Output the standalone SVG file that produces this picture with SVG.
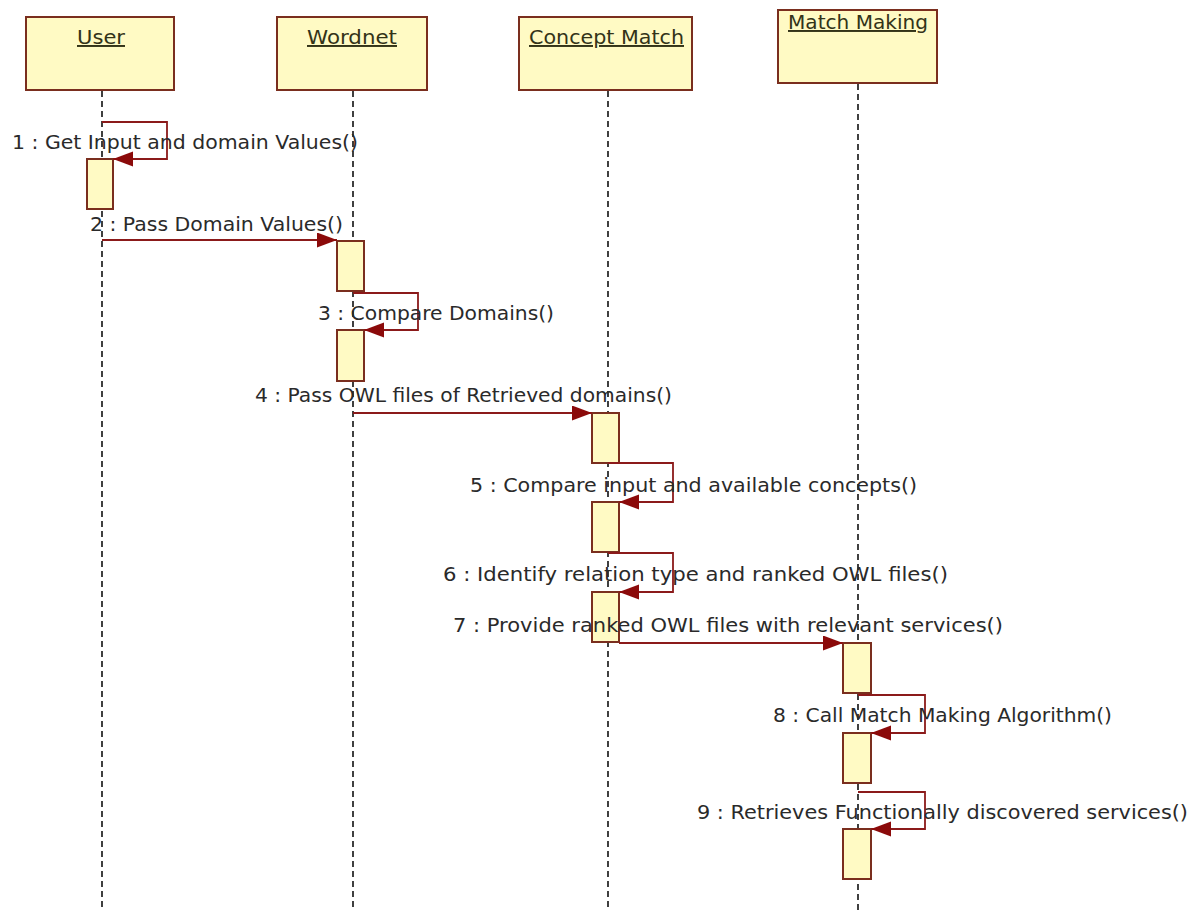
<svg xmlns="http://www.w3.org/2000/svg" width="1190" height="911" viewBox="0 0 1190 911">
<style>
.box{fill:#FFFAC4;stroke:#7A2E1E;stroke-width:2}
.act{fill:#FFFAC4;stroke:#7A2E1E;stroke-width:2}
.life{stroke:#111;stroke-width:1.6;stroke-dasharray:6,4;fill:none}
.msg{stroke:#8B1A1A;stroke-width:1.8;fill:none}
.lbl{font-family:"DejaVu Sans","Liberation Sans",sans-serif;font-size:20px;fill:#2a2a2a}
.ttl{font-family:"DejaVu Sans","Liberation Sans",sans-serif;font-size:19.5px;fill:#333318;text-decoration:underline}
</style>
<defs>
<marker id="ah" markerUnits="userSpaceOnUse" markerWidth="22" markerHeight="16" refX="20" refY="7.5" orient="auto">
<path d="M0,0 L20,7.5 L0,15 z" fill="#8B0A0A"/>
</marker>
</defs>
<rect width="1190" height="911" fill="#fff"/>

<g id="lifelines">
<line class="life" x1="102" y1="91" x2="102" y2="911"/>
<line class="life" x1="353" y1="91" x2="353" y2="911"/>
<line class="life" x1="608" y1="91" x2="608" y2="911"/>
<line class="life" x1="858" y1="84" x2="858" y2="911"/>
</g>

<g id="user">
<rect class="box" x="26" y="17" width="148" height="73"/>
<text class="ttl" x="77" y="44" textLength="48" lengthAdjust="spacingAndGlyphs">User</text>
</g>
<g id="wordnet">
<rect class="box" x="277" y="17" width="150" height="73"/>
<text class="ttl" x="307" y="44" textLength="90" lengthAdjust="spacingAndGlyphs">Wordnet</text>
</g>
<g id="conceptmatch">
<rect class="box" x="519" y="17" width="173" height="73"/>
<text class="ttl" x="529" y="44" textLength="155" lengthAdjust="spacingAndGlyphs">Concept Match</text>
</g>
<g id="matchmaking">
<rect class="box" x="778" y="10" width="159" height="73"/>
<text class="ttl" x="788" y="29" textLength="140" lengthAdjust="spacingAndGlyphs">Match Making</text>
</g>

<g id="activations">
<rect class="act" x="87" y="159" width="26" height="50"/>
<rect class="act" x="337" y="241" width="27" height="50"/>
<rect class="act" x="337" y="330" width="27" height="51"/>
<rect class="act" x="592" y="413" width="27" height="50"/>
<rect class="act" x="592" y="502" width="27" height="50"/>
<rect class="act" x="592" y="592" width="27" height="50"/>
<rect class="act" x="843" y="643" width="28" height="50"/>
<rect class="act" x="843" y="733" width="28" height="50"/>
<rect class="act" x="843" y="829" width="28" height="50"/>
</g>

<g id="connectors">
<path class="msg" d="M102,122 H167 V159 H113" marker-end="url(#ah)"/>
<path class="msg" d="M102,240 H337" marker-end="url(#ah)"/>
<path class="msg" d="M353,293 H418 V330 H364" marker-end="url(#ah)"/>
<path class="msg" d="M353,413 H592" marker-end="url(#ah)"/>
<path class="msg" d="M608,463 H673 V502 H619" marker-end="url(#ah)"/>
<path class="msg" d="M608,553 H673 V592 H619" marker-end="url(#ah)"/>
<path class="msg" d="M619,643 H843" marker-end="url(#ah)"/>
<path class="msg" d="M858,695 H925 V733 H871" marker-end="url(#ah)"/>
<path class="msg" d="M858,792 H925 V829 H871" marker-end="url(#ah)"/>
</g>

<g id="labels">
<text class="lbl" x="12" y="149" textLength="346" lengthAdjust="spacingAndGlyphs">1 : Get Input and domain Values()</text>
<text class="lbl" x="90" y="231" textLength="253" lengthAdjust="spacingAndGlyphs">2 : Pass Domain Values()</text>
<text class="lbl" x="318" y="320" textLength="236" lengthAdjust="spacingAndGlyphs">3 : Compare Domains()</text>
<text class="lbl" x="255" y="402" textLength="417" lengthAdjust="spacingAndGlyphs">4 : Pass OWL files of Retrieved domains()</text>
<text class="lbl" x="470" y="492" textLength="447" lengthAdjust="spacingAndGlyphs">5 : Compare input and available concepts()</text>
<text class="lbl" x="443" y="581" textLength="505" lengthAdjust="spacingAndGlyphs">6 : Identify relation type and ranked OWL files()</text>
<text class="lbl" x="453" y="632" textLength="550" lengthAdjust="spacingAndGlyphs">7 : Provide ranked OWL files with relevant services()</text>
<text class="lbl" x="773" y="722" textLength="339" lengthAdjust="spacingAndGlyphs">8 : Call Match Making Algorithm()</text>
<text class="lbl" x="697" y="819" textLength="491" lengthAdjust="spacingAndGlyphs">9 : Retrieves Functionally discovered services()</text>
</g>
</svg>
